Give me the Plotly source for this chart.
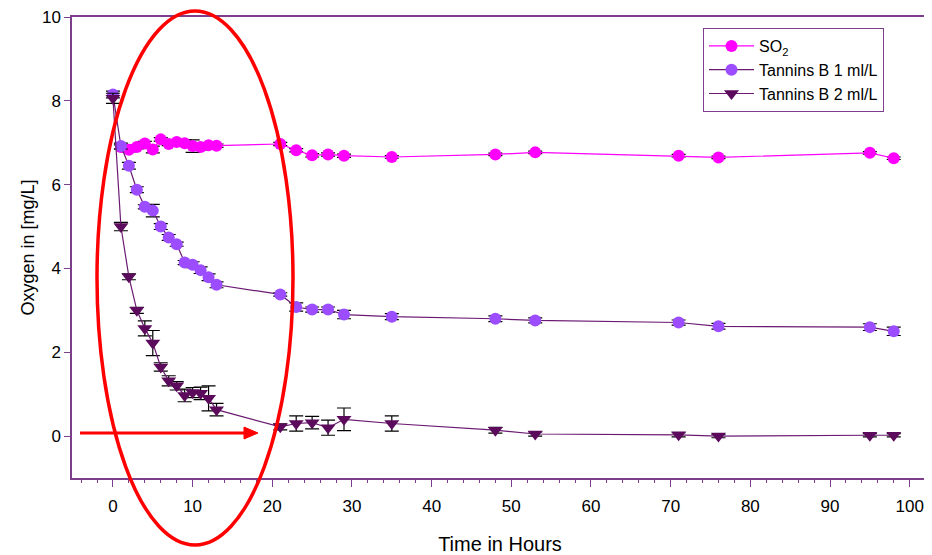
import plotly.graph_objects as go

# ---- data ----
t_so2 = [1, 2, 3, 4, 5, 6, 7, 8, 9, 10, 11, 12, 13, 21, 23, 25, 27, 29, 35, 48, 53, 71, 76, 95, 98]
so2 = [6.9, 6.83, 6.9, 6.98, 6.84, 7.08, 6.97, 7.02, 6.99, 6.92, 6.9, 6.94, 6.93,
       6.97, 6.82, 6.7, 6.72, 6.69, 6.66, 6.72, 6.77, 6.69, 6.65, 6.76, 6.63]
so2_err = [0.05, 0.05, 0.05, 0.05, 0.08, 0.04, 0.04, 0.05, 0.08, 0.15, 0.07, 0.05, 0.04,
           0.04, 0.04, 0.04, 0.04, 0.04, 0.03, 0.03, 0.03, 0.03, 0.03, 0.03, 0.03]

t_tan = [0, 1, 2, 3, 4, 5, 6, 7, 8, 9, 10, 11, 12, 13, 21, 23, 25, 27, 29, 35, 48, 53, 71, 76, 95, 98]
tan1 = [8.15, 6.92, 6.45, 5.88, 5.47, 5.38, 5.0, 4.74, 4.58, 4.14, 4.09, 3.96, 3.79, 3.61,
        3.38, 3.08, 3.02, 3.02, 2.9, 2.85, 2.8, 2.76, 2.71, 2.62, 2.6, 2.5]
tan1_err = [0.08, 0.07, 0.08, 0.07, 0.05, 0.15, 0.07, 0.07, 0.05, 0.05, 0.07, 0.08, 0.08, 0.07,
            0.04, 0.1, 0.06, 0.06, 0.1, 0.07, 0.07, 0.06, 0.06, 0.07, 0.08, 0.1]
tan2 = [8.06, 5.0, 3.8, 3.0, 2.57, 2.22, 1.65, 1.32, 1.2, 0.97, 1.04, 1.02, 0.9, 0.63,
        0.22, 0.3, 0.32, 0.2, 0.4, 0.3, 0.14, 0.05, 0.03, 0.0, 0.02, 0.02]
tan2_err = [0.12, 0.1, 0.07, 0.07, 0.18, 0.3, 0.1, 0.12, 0.1, 0.15, 0.12, 0.15, 0.3, 0.15,
            0.07, 0.18, 0.15, 0.18, 0.27, 0.18, 0.07, 0.05, 0.05, 0.04, 0.04, 0.04]

x_ticks = [0, 10, 20, 30, 40, 50, 60, 70, 80, 90, 100]
y_ticks = [0, 2, 4, 6, 8, 10]

AXC = "#7d3f8c"
FONT = "Liberation Sans, Arial, sans-serif"
NARROW = "Liberation Sans Narrow, Arial Narrow, " + FONT

fig = go.Figure()

def err(vals):
    return dict(type="data", array=vals, visible=True, color="black", thickness=1.2, width=7)

fig.add_trace(go.Scatter(
    x=t_so2, y=so2, name="SO<sub>2</sub>", mode="lines+markers",
    line=dict(color="#ff00ff", width=1.2),
    marker=dict(color="#ff00ff", size=12, symbol="circle"),
    error_y=err(so2_err)))
fig.add_trace(go.Scatter(
    x=t_tan, y=tan1, name="Tannins B 1 ml/L", mode="lines+markers",
    line=dict(color="#6b1a72", width=1.2),
    marker=dict(color="#9b4dff", size=12, symbol="circle"),
    error_y=err(tan1_err)))
fig.add_trace(go.Scatter(
    x=t_tan, y=tan2, name="Tannins B 2 ml/L", mode="lines+markers",
    line=dict(color="#6b1a72", width=1.2),
    marker=dict(color="#5c0a5c", size=13, symbol="triangle-down"),
    error_y=err(tan2_err)))

# the page body adds an 8px offset; compensate so the plot lands at screen coords
OFF = 8
W, H = 932 - OFF, 555 - OFF
L, T = 72 - OFF, 17 - OFF
R = 932 - 928
B = 555 - 478
pw, ph = W - L - R, H - T - B

def px(xs):  # screen x -> paper
    return (xs - OFF - L) / pw

def py(ys):  # screen y -> paper
    return (H - B - (ys - OFF)) / ph

# red ellipse
fig.add_shape(type="circle", xref="paper", yref="paper",
              x0=px(97), x1=px(293), y0=py(545), y1=py(11),
              line=dict(color="#ff0000", width=3.5), layer="above")
# red arrow: shaft + head
fig.add_shape(type="line", xref="paper", yref="paper",
              x0=px(80), x1=px(246), y0=py(433), y1=py(433),
              line=dict(color="#ff0000", width=3), layer="above")
fig.add_shape(type="path", xref="paper", yref="paper",
              path=f"M {px(244)} {py(427)} L {px(258)} {py(433)} L {px(244)} {py(439)} Z",
              fillcolor="#ff0000", line=dict(color="#ff0000", width=1), layer="above")

fig.update_layout(
    width=W, height=H,
    margin=dict(l=L, r=R, t=T, b=B, autoexpand=False),
    paper_bgcolor="white", plot_bgcolor="white",
    font=dict(family=FONT, size=15, color="black"),
    showlegend=True,
    legend=dict(x=px(703), y=py(28), xanchor="left", yanchor="top",
                bordercolor=AXC, borderwidth=1, bgcolor="white",
                font=dict(family=FONT, size=16), tracegroupgap=0,
                itemwidth=45),
    xaxis=dict(range=[-5.14, 102.3], tickvals=x_ticks, ticktext=[str(v) for v in x_ticks],
               automargin=False, ticklabeloverflow="allow",
               showgrid=False, zeroline=False, showline=True, linecolor=AXC, linewidth=1.5,
               mirror=True, ticks="outside", ticklen=7, tickcolor=AXC, tickwidth=1,
               ticklabelstandoff=5,
               minor=dict(dtick=2, ticks="outside", ticklen=3, tickcolor=AXC, showgrid=False),
               tickfont=dict(family=NARROW, size=17),
               title=dict(text="Time in Hours", font=dict(family=NARROW, size=20), standoff=26)),
    yaxis=dict(range=[-1, 10], tickvals=y_ticks, showgrid=False, zeroline=False,
               automargin=False, ticklabeloverflow="allow",
               showline=True, linecolor=AXC, linewidth=1.5, ticks="outside", ticklen=6,
               ticklabelstandoff=0,
               tickcolor=AXC, tickwidth=1, tickfont=dict(size=17),
               title=dict(text="Oxygen in [mg/L]", font=dict(size=18), standoff=3)),
)

fig.write_html("out.html")
